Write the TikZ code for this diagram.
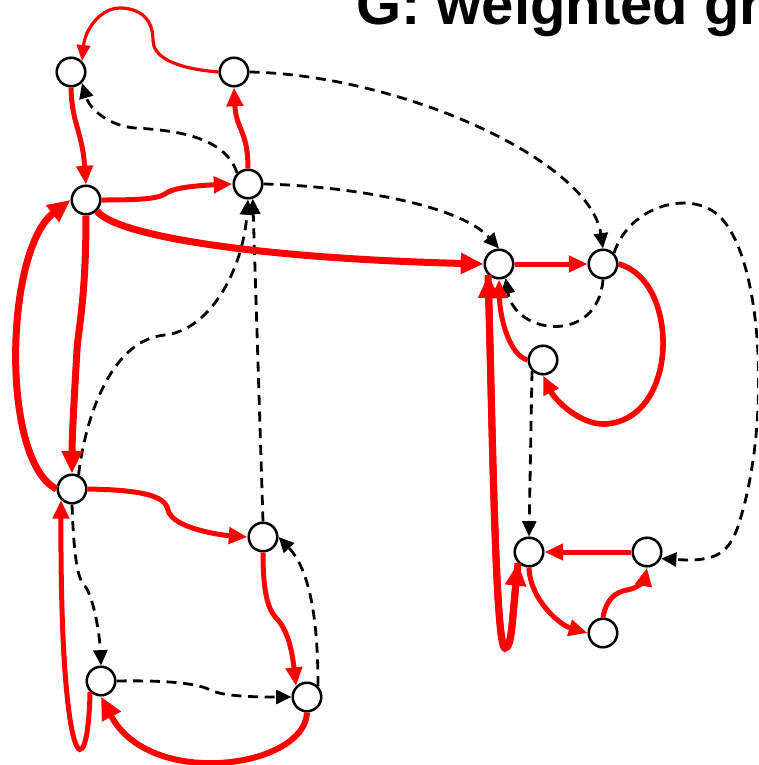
\documentclass[tikz,border=0pt]{standalone}
\usepackage{fontspec}
\setmainfont{Liberation Sans}
\usetikzlibrary{arrows.meta}

\begin{document}
\begin{tikzpicture}[x=0.75pt,y=-0.75pt,
    vertex/.style={draw,circle,fill=white,line width=1.9pt,minimum size=21.4pt,inner sep=0pt},
    treethin/.style={red,line width=2.4pt,-{Triangle[length=12pt,width=10pt]}},
    treemid/.style={red,line width=3.75pt,-{Triangle[length=14pt,width=12pt]}},
    treethick/.style={red,line width=5.25pt,-{Triangle[length=17pt,width=15pt]}},
    nontree/.style={black,dash pattern=on 7.5pt off 5pt,line width=2.1pt,-{Triangle[length=11.5pt,width=10.5pt]}}]
        \useasboundingbox (0,0) rectangle (758,765);
        \clip (0,0) rectangle (758,765);

        % Title
        \node[anchor=base west,inner sep=0pt,font=\bfseries\fontsize{43.5}{52}\selectfont] (title) at (356,24) {G: weighted graph};

        % Vertices
        \foreach \n/\x/\y in {a/71/72, b/234/72, c/86/200, d/248/184, e/499/264, f/603/264, g/543/360,
                              h/72/489, i/263/537, j/101/681, k/307/697, l/529/552, m/647/552, n/603/633} {
            \node[vertex] (\n) at (\x,\y) {};
        }

        % Dashed edges
        \draw[nontree] (d.north west) .. controls (225,135) and (170,130) .. (135,128) .. controls (110,126) and (90,110) .. (a.south east);
        \draw[nontree] (b.east) .. controls (400,75) and (590,160) .. (f.north);
        \draw[nontree] (d.east) .. controls (350,186) and (460,205) .. (e.north);
        \draw[nontree] (h.65) .. controls (85,420) and (110,340) .. (165,335) .. controls (210,330) and (243,270) .. (d.south);
        \draw[nontree] (i.north) -- (d.-72);
        \draw[nontree] (f.south) .. controls (598,345) and (515,335) .. (e.-65);
        \draw[nontree] (g.south west) -- (l.north);
        \draw[nontree] (f.north east) .. controls (630,205) and (690,190) .. (718,215) .. controls (763,255) and (771,420) .. (740,520) .. controls (730,555) and (715,562) .. (m.-25);
        \draw[nontree] (h.south) .. controls (74,560) and (78,580) .. (85,586) .. controls (95,600) and (100,640) .. (j.north);
        \draw[nontree] (j.east) .. controls (170,680) and (200,684) .. (210,690) .. controls (225,697) and (260,697) .. (k.west);
        \draw[nontree] (k.north east) .. controls (318,620) and (310,570) .. (i.east);

        % Red edges
        \draw[treethin] (b.west) .. controls (170,68) and (153,55) .. (153,40) .. controls (153,15) and (135,8) .. (120,8) .. controls (100,8) and (85,30) .. (a.north east);
        \draw[treemid] (a.south) .. controls (72,125) and (82,130) .. (c.north);
        \draw[treemid] (d.north) .. controls (248,130) and (236,130) .. (b.south);
        \draw[treemid] (c.east) .. controls (150,200) and (160,198) .. (168,192) .. controls (180,186) and (210,185) .. (d.west);
        \draw[treethick] (c.south east) .. controls (115,235) and (250,258) .. (e.west);
        \draw[treethick] (c.south) .. controls (86,300) and (78,330) .. (77,350) .. controls (74,400) and (72,440) .. (h.north);
        \draw[treethick] (h.west) .. controls (0,460) and (5,250) .. (c.west);
        \draw[treemid] (h.east) .. controls (140,490) and (165,495) .. (168,510) .. controls (172,528) and (220,535) .. (i.west);
        \draw[treemid] (i.south) .. controls (263,600) and (270,612) .. (278,620) .. controls (288,632) and (292,650) .. (k.north west);
        \draw[treethick,line width=4.5pt] (k.south) .. controls (305,768) and (150,790) .. (j.south);
        \draw[treemid] (j.south west) .. controls (88,792) and (60,778) .. (h.south west);
        \draw[treemid] (e) -- (f);
        \draw[treemid,line width=4.2pt] (f.east) .. controls (680,280) and (680,420) .. (605,424) .. controls (580,425) and (555,400) .. (g.south);
        \draw[treemid] (g.west) .. controls (510,355) and (500,320) .. (e.south);
        \draw[treethick] (l.south west) .. controls (512,620) and (512,648) .. (505,648) .. controls (495,648) and (492,400) .. (e.south west);
        \draw[treethick] (e.south west) .. controls (492,400) and (495,648) .. (505,648) .. controls (512,648) and (512,620) .. (l.south west);
        \draw[treemid] (m) -- (l);
        \draw[treemid] (l.south) .. controls (530,600) and (560,625) .. (n.west);
        \draw[treemid] (n.north) .. controls (606,600) and (615,592) .. (627,590) .. controls (640,588) and (645,578) .. (m.south);
    \end{tikzpicture}
\end{document}
